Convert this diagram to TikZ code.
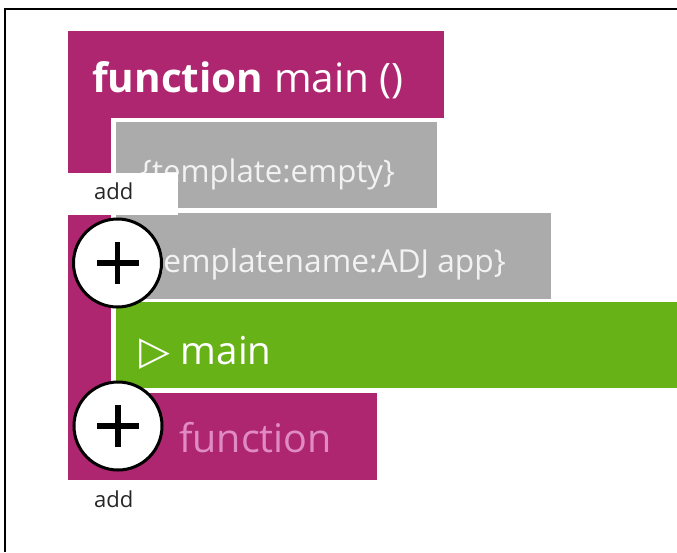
\documentclass[tikz,border=0pt]{standalone}
\usepackage{fontspec}
\setmainfont{Open Sans}
\newfontfamily\symfont{DejaVu Sans}
\definecolor{fpurple}{HTML}{AE2570}
\definecolor{fgray}{HTML}{ABABAB}
\definecolor{fgreen}{HTML}{67B317}
\definecolor{fpink}{HTML}{E08BC5}
\definecolor{ftext}{HTML}{F2F2F2}
\tikzset{
  lbl/.style={inner sep=0pt, anchor=base west},
  addlbl/.style={inner sep=0pt, anchor=base west, text=black!85, font=\fontsize{22}{24}\selectfont},
  plusc/.style={circle, draw=black, fill=white, line width=3pt, minimum size=88pt, inner sep=0pt},
  plusbar/.style={line width=5.5pt, draw=black}
}
\begin{document}
\begin{tikzpicture}[x=1pt,y=-1pt]
\useasboundingbox (0,0) rectangle (677,552);
\fill[white] (0,0) rectangle (677,552);
\draw[line width=2pt] (5,552) -- (5,9) -- (677,9);
% purple function block
\fill[fpurple] (68,31) rectangle (444,118);
\fill[fpurple] (68,118) rectangle (111,480);
\fill[fpurple] (111,393) rectangle (377,480);
\node[lbl, text=white, font=\fontsize{40.5}{44}\selectfont] (head) at (92,92) {\textbf{function} main ()};
% gray boxes
\fill[fgray] (116,122) rectangle (437,208);
\node[lbl, text=ftext, font=\fontsize{31.2}{34}\selectfont] (t1) at (140,182) {\{template:empty\}};
\fill[fgray] (116,213) rectangle (551,299);
\node[lbl, text=ftext, font=\fontsize{31.7}{34}\selectfont] (t2) at (140,272) {\{templatename:ADJ app\}};
% green
\fill[fgreen] (116,302) rectangle (677,388);
\node[lbl, text=white, font=\fontsize{38.5}{42}\selectfont] (t3) at (139,364) {{\symfont\fontsize{40}{44}\selectfont ▷}\hspace{11pt}main};
% pink function
\node[lbl, text=fpink, font=\fontsize{39.5}{44}\selectfont] (t4) at (179,452) {function};
% add boxes
\fill[white] (68,173) rectangle (178,215);
\fill[white] (68,480) rectangle (178,520);
\node[addlbl] (add1) at (94,199) {add};
\node[addlbl] (add2) at (94,507) {add};
% plus circles
\node[plusc] (c1) at (117.5,263) {};
\draw[plusbar] ([xshift=-21pt]c1.center) -- ([xshift=21pt]c1.center);
\draw[plusbar] ([yshift=-21pt]c1.center) -- ([yshift=21pt]c1.center);
\node[plusc] (c2) at (118,426) {};
\draw[plusbar] ([xshift=-21pt]c2.center) -- ([xshift=21pt]c2.center);
\draw[plusbar] ([yshift=-21pt]c2.center) -- ([yshift=21pt]c2.center);
\end{tikzpicture}
\end{document}
